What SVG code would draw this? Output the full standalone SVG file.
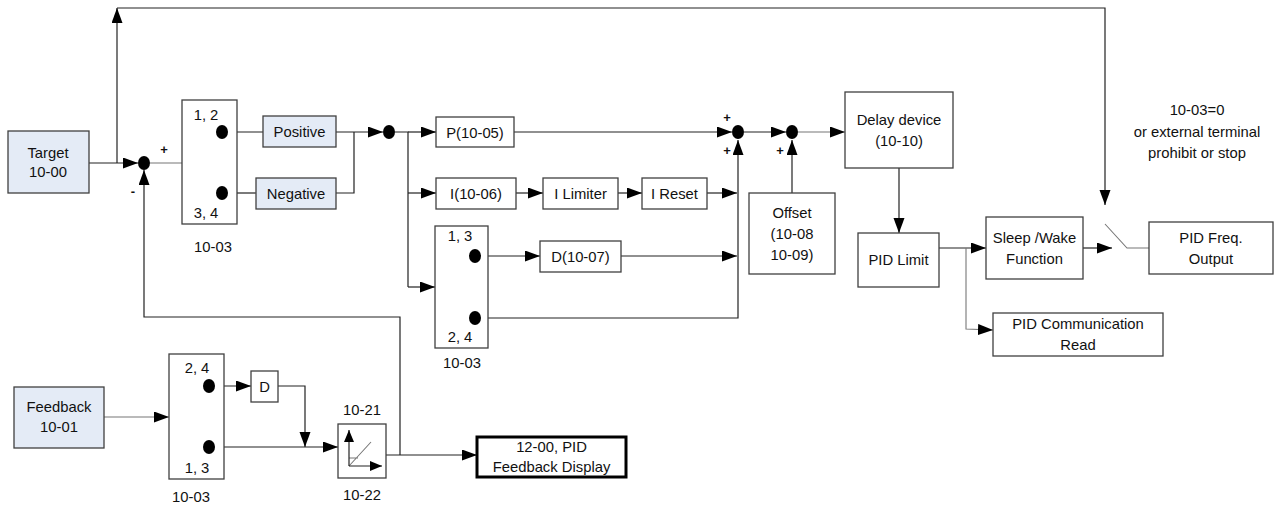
<svg xmlns="http://www.w3.org/2000/svg" width="1278" height="507" viewBox="0 0 1278 507">
<defs>
<marker id="ah" markerUnits="userSpaceOnUse" markerWidth="16" markerHeight="12" refX="15" refY="5.5" orient="auto"><path d="M0,0 L15,5.5 L0,11 z" fill="#000"/></marker>
<marker id="ahs" markerUnits="userSpaceOnUse" markerWidth="13" markerHeight="11" refX="12" refY="5" orient="auto"><path d="M0,0 L12,5 L0,10 z" fill="#000"/></marker>
<style>
.b{fill:#fff;stroke:#404040;stroke-width:1.3}
.bb{fill:#e4ebf6;stroke:#404040;stroke-width:1.3}
.bt{fill:#fff;stroke:#000;stroke-width:3}
.l{fill:none;stroke:#222;stroke-width:1.2}
.g{fill:none;stroke:#777;stroke-width:1.1}
.a{marker-end:url(#ah)}
text{font-family:"Liberation Sans",Arial,sans-serif;font-size:14.8px;fill:#111;text-anchor:middle}
.pm{font-weight:bold;font-size:13px}
.d{fill:#000}
</style>
</defs>
<rect width="1278" height="507" fill="#fff"/>

<g id="connectors">
<path class="l a" d="M89,163 L138,163"/>
<path class="l a" d="M117,163 L117,8"/>
<path class="l a" d="M117,8 L1105,8 L1105,205"/>
<path class="l a" d="M400,455 L400,317 L144,317 L144,170"/>
<path class="g" d="M150,163 L200,163 L214,140"/>
<path class="l" d="M228,132 L263,132"/>
<path class="l" d="M228,193 L256,193"/>
<path class="l a" d="M336,132 L383,132"/>
<path class="l" d="M336,193 L354,193 L354,132"/>
<path class="l" d="M395,132 L408,132 L408,287"/>
<path class="l a" d="M408,132 L436,132"/>
<path class="l a" d="M408,193 L436,193"/>
<path class="l a" d="M408,287 L435,287"/>
<path class="g" d="M435,287 L452,287 L468,257"/>
<path class="l a" d="M516,193 L543,193"/>
<path class="l a" d="M618,193 L642,193"/>
<path class="l a" d="M707,193 L737,193"/>
<path class="l a" d="M481,256 L540,256"/>
<path class="l a" d="M621,256 L737,256"/>
<path class="l a" d="M481,318 L738,318 L738,140"/>
<path class="l a" d="M514,132 L732,132"/>
<path class="l a" d="M744,132 L786,132"/>
<path class="l a" d="M792,193 L792,140"/>
<path class="g a" d="M798,132 L845,132"/>
<path class="l a" d="M899,168 L899,233"/>
<path class="l a" d="M939,248 L986,248"/>
<path class="g a" d="M966,248 L966,329 L993,330"/>
<path class="l a" d="M1083,248 L1112,248"/>
<path class="g" d="M1105,224 L1127,248 L1149,248"/>
<path class="g a" d="M104,417 L169,417"/>
<path class="g" d="M169,417 L187,417 L204,388"/>
<path class="l a" d="M215,386 L251,386"/>
<path class="l a" d="M278,386 L305,386 L305,447"/>
<path class="l a" d="M215,447 L338,447"/>
<path class="l a" d="M386,455 L477,455"/>
</g>

<g id="junctions">
<ellipse class="d" cx="144" cy="163" rx="6" ry="7"/>
<ellipse class="d" cx="389" cy="132" rx="6" ry="7"/>
<ellipse class="d" cx="738" cy="132" rx="6" ry="7"/>
<ellipse class="d" cx="792" cy="132" rx="6" ry="7"/>
<text class="pm" x="164" y="154">+</text>
<text class="pm" x="133" y="196">-</text>
<text class="pm" x="727" y="122">+</text>
<text class="pm" x="727" y="155">+</text>
<text class="pm" x="780" y="155">+</text>
</g>

<g id="target"><rect class="bb" x="8" y="131" width="81" height="62"/><text x="48" y="158">Target</text><text x="48" y="177">10-00</text></g>

<g id="switch1">
<rect class="b" x="182" y="100" width="55" height="124"/>
<text x="206" y="120">1, 2</text><text x="206" y="218">3, 4</text>
<ellipse class="d" cx="222" cy="132" rx="6" ry="7"/><ellipse class="d" cx="222" cy="193" rx="6" ry="7"/>
<text x="213" y="252">10-03</text>
</g>

<g id="positive"><rect class="bb" x="263" y="116" width="73" height="31"/><text x="299.5" y="137">Positive</text></g>
<g id="negative"><rect class="bb" x="256" y="178" width="80" height="31"/><text x="296" y="199">Negative</text></g>

<g id="p"><rect class="b" x="436" y="117" width="78" height="30"/><text x="475" y="138">P(10-05)</text></g>
<g id="i"><rect class="b" x="436" y="178" width="80" height="31"/><text x="476" y="199">I(10-06)</text></g>
<g id="ilimiter"><rect class="b" x="543" y="178" width="75" height="31"/><text x="580.5" y="199">I Limiter</text></g>
<g id="ireset"><rect class="b" x="642" y="178" width="65" height="31"/><text x="674.5" y="199">I Reset</text></g>

<g id="switch2">
<rect class="b" x="435" y="226" width="53" height="122"/>
<text x="460" y="241">1, 3</text><text x="460" y="342">2, 4</text>
<ellipse class="d" cx="475" cy="256" rx="6" ry="7"/><ellipse class="d" cx="475" cy="318" rx="6" ry="7"/>
<text x="462" y="368">10-03</text>
</g>

<g id="d"><rect class="b" x="540" y="241" width="81" height="31"/><text x="580.5" y="262">D(10-07)</text></g>

<g id="offset"><rect class="b" x="749" y="193" width="86" height="81"/><text x="792" y="218">Offset</text><text x="792" y="239">(10-08</text><text x="792" y="260">10-09)</text></g>

<g id="delay"><rect class="b" x="845" y="92" width="108" height="76"/><text x="899" y="125">Delay device</text><text x="899" y="146">(10-10)</text></g>

<g id="pidlimit"><rect class="b" x="858" y="233" width="81" height="54"/><text x="898.5" y="265">PID Limit</text></g>

<g id="sleep"><rect class="b" x="986" y="217" width="97" height="62"/><text x="1034.5" y="243">Sleep /Wake</text><text x="1034.5" y="264">Function</text></g>

<g id="pidfreq"><rect class="b" x="1149" y="222" width="124" height="52"/><text x="1211" y="243">PID Freq.</text><text x="1211" y="264">Output</text></g>

<g id="pidcomm"><rect class="b" x="993" y="313" width="170" height="43"/><text x="1078" y="329">PID Communication</text><text x="1078" y="350">Read</text></g>

<g id="note"><text x="1197" y="115">10-03=0</text><text x="1197" y="137">or external terminal</text><text x="1197" y="158">prohibit or stop</text></g>

<g id="feedback"><rect class="bb" x="14" y="387" width="90" height="61"/><text x="59" y="412">Feedback</text><text x="59" y="432">10-01</text></g>

<g id="switch3">
<rect class="b" x="169" y="354" width="55" height="125"/>
<text x="197" y="373">2, 4</text><text x="197" y="473">1, 3</text>
<ellipse class="d" cx="209" cy="386" rx="6" ry="7"/><ellipse class="d" cx="209" cy="447" rx="6" ry="7"/>
<text x="191" y="502">10-03</text>
</g>

<g id="dfb"><rect class="b" x="251" y="371" width="27" height="31"/><text x="264.5" y="392">D</text></g>

<g id="hyst">
<rect class="b" x="338" y="424" width="48" height="54"/>
<path class="g" d="M349,466 L371,442 M349,458 L358,458"/>
<path class="l" d="M349,466 L349,430" marker-end="url(#ahs)"/>
<path class="l" d="M349,466 L382,466" marker-end="url(#ahs)"/>
<text x="362" y="415">10-21</text>
<text x="362" y="500">10-22</text>
</g>

<g id="display"><rect class="bt" x="477" y="437" width="149" height="40"/><text x="551.5" y="452">12-00, PID</text><text x="551.5" y="472">Feedback Display</text></g>
</svg>
